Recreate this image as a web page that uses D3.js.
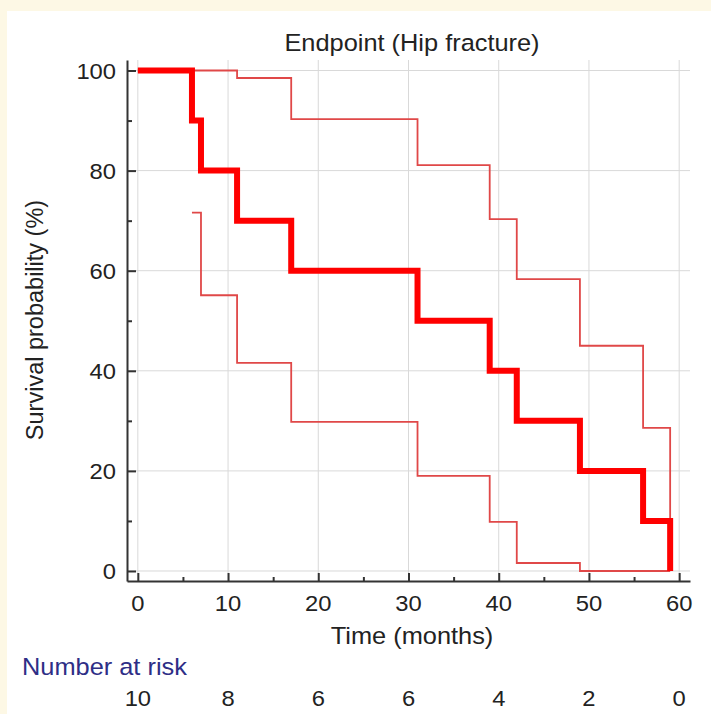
<!DOCTYPE html>
<html>
<head>
<meta charset="utf-8">
<script src="https://cdn.jsdelivr.net/npm/d3@7"></script>
<style>
  html, body { margin: 0; padding: 0; background: #fdf8e5; }
  svg { display: block; }
  text { font-family: "Liberation Sans", Arial, sans-serif; fill: #222; }
  .grid line { stroke: #d9d9d9; stroke-width: 1; }
  .axis path, .axis line { stroke: #333; stroke-width: 2; }
</style>
</head>
<body>
<div id="main"></div>
<script>

// Kaplan-Meier estimate (months, %)
var kmTime = [0, 6, 7, 11, 17, 31, 39, 42, 49, 56, 59]
var kmSurv = [100, 90, 80, 70, 60, 50, 40, 30, 20, 10, 0]

// 95% confidence band
var upTime = [0, 11, 17, 31, 39, 42, 49, 56, 59]
var upSurv = [100, 98.5, 90.3, 81.1, 70.3, 58.3, 45.0, 28.6, 0]
var loTime = [6, 7, 11, 17, 31, 39, 42, 49, 59]
var loSurv = [71.6, 55.1, 41.6, 29.8, 19.0, 9.8, 1.6, 0, 0]

var xTicks = [0, 10, 20, 30, 40, 50, 60]
var xMinor = [5, 15, 25, 35, 45, 55]
var yTicks = [0, 20, 40, 60, 80, 100]
var yMinor = [10, 30, 50, 70, 90]
var atRisk = [10, 8, 6, 6, 4, 2, 0]

var W = 711, H = 714
var stretch = 1.08 // the original picture is a bit wider than tall

var svg = d3.select('#main')
  .append('svg')
  .attr("width", W)
  .attr("height", H)

// white panel
svg.append('rect')
  .attr("x", 7).attr("y", 11)
  .attr("width", W - 7).attr("height", H - 11)
  .attr("fill", "#fff")

var x = d3.scaleLinear().domain([-1.2, 61.2]).range([127, 690])
var y = d3.scaleLinear().domain([-2, 102.1]).range([581, 60])

// grid
var grid = svg.append('g').attr("class", "grid")
grid.selectAll('.gx')
  .data(xTicks)
  .enter()
  .append('line')
  .attr("x1", d => x(d)).attr("x2", d => x(d))
  .attr("y1", y.range()[1]).attr("y2", y.range()[0])
grid.selectAll('.gy')
  .data(yTicks)
  .enter()
  .append('line')
  .attr("y1", d => y(d)).attr("y2", d => y(d))
  .attr("x1", x.range()[0]).attr("x2", x.range()[1])

function stepPath(times, vals) {
  var pts = times.map((t, i) => [t, vals[i]])
  return d3.line()
    .x(d => x(d[0]))
    .y(d => y(d[1]))
    .curve(d3.curveStepAfter)(pts)
}

// confidence limits
svg.append('path')
  .attr("d", stepPath(upTime, upSurv))
  .attr("fill", "none")
  .attr("stroke", "#e04848")
  .attr("stroke-width", 1.8)
svg.append('path')
  .attr("d", stepPath(loTime, loSurv))
  .attr("fill", "none")
  .attr("stroke", "#e04848")
  .attr("stroke-width", 1.8)

// survival curve
svg.append('path')
  .attr("d", stepPath(kmTime, kmSurv))
  .attr("fill", "none")
  .attr("stroke", "#ff0000")
  .attr("stroke-width", 6)
  .attr("stroke-linejoin", "miter")

// text helper: horizontal stretch around the anchor point
function label(g, txt, px, py, size, anchor) {
  return g.append('text')
    .text(txt)
    .attr("transform", "translate(" + px + "," + py + ")scale(" + stretch + ",1)")
    .attr("text-anchor", anchor || "middle")
    .style("font-size", size + "px")
}

// axes
var xAxis = svg.append('g')
  .attr("class", "axis")
  .attr("transform", "translate(0," + y.range()[0] + ")")
  .call(d3.axisBottom(x).tickValues(xTicks).tickSizeInner(-8).tickSizeOuter(0).tickFormat(""))
svg.append('g')
  .attr("class", "axis")
  .attr("transform", "translate(0," + y.range()[0] + ")")
  .call(d3.axisBottom(x).tickValues(xMinor).tickSizeInner(-4).tickSizeOuter(0).tickFormat(""))
  .select('.domain').remove()
xTicks.forEach(t => label(svg, t, x(t), 611, 22))

var yAxis = svg.append('g')
  .attr("class", "axis")
  .attr("transform", "translate(" + x.range()[0] + ",0)")
  .call(d3.axisLeft(y).tickValues(yTicks).tickSizeInner(-9).tickSizeOuter(0).tickFormat(""))
svg.append('g')
  .attr("class", "axis")
  .attr("transform", "translate(" + x.range()[0] + ",0)")
  .call(d3.axisLeft(y).tickValues(yMinor).tickSizeInner(-5).tickSizeOuter(0).tickFormat(""))
  .select('.domain').remove()
yTicks.forEach(t => label(svg, t, x.range()[0] - 11, y(t) + 8, 22, "end"))

// titles
label(svg, "Endpoint (Hip fracture)", 412, 51, 23.5)
label(svg, "Time (months)", 412, 644, 23.5)

svg.append('text')
  .text("Survival probability (%)")
  .attr("transform", "translate(43,320)rotate(-90)")
  .attr("text-anchor", "middle")
  .style("font-size", "23.5px")

label(svg, "Number at risk", 22, 675, 23.5, "start")
  .style("fill", "#2e2e86")

atRisk.forEach((d, i) => label(svg, d, x(xTicks[i]), 706, 22))

</script>
</body>
</html>
